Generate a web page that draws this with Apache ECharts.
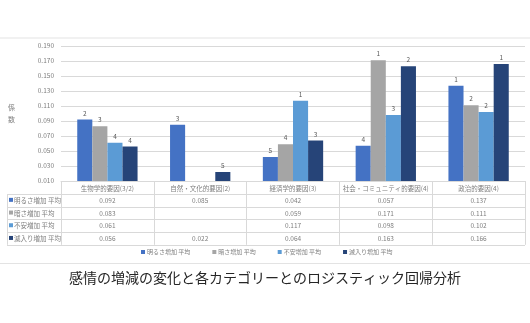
<!DOCTYPE html>
<html>
<head>
<meta charset="utf-8">
<script src="https://cdn.jsdelivr.net/npm/echarts@6/dist/echarts.min.js"></script>
<style>
  html, body { margin: 0; padding: 0; background: #fff; }
  #chart { width: 530px; height: 323px; }
</style>
</head>
<body>
<div id="chart"></div>
<script>
// Categories and per-emotion average coefficients
const categories = ['生物学的要因(3/2)', '自然・文化的要因(2)', '経済学的要因(3)', '社会・コミュニティ的要因(4)', '政治的要因(4)'];
const seriesNames = ['明るさ増加 平均', '暗さ増加 平均', '不安増加 平均', '滅入り増加 平均'];
const brightValues  = [0.092, 0.085, 0.042, 0.057, 0.137];
const darkValues    = [0.083, null,  0.059, 0.171, 0.111];
const anxietyValues = [0.061, null,  0.117, 0.098, 0.102];
const gloomValues   = [0.056, 0.022, 0.064, 0.163, 0.166];
// Rank labels printed above each bar
const brightRanks  = ['2', '3', '5', '4', '1'];
const darkRanks    = ['3', '',  '4', '1', '2'];
const anxietyRanks = ['4', '',  '1', '3', '2'];
const gloomRanks   = ['4', '5', '3', '2', '1'];
const yTicks = [0.010, 0.030, 0.050, 0.070, 0.090, 0.110, 0.130, 0.150, 0.170, 0.190];
const titleText = '感情の増減の変化と各カテゴリーとのロジスティック回帰分析';

const valueSets = [brightValues, darkValues, anxietyValues, gloomValues];
const rankSets = [brightRanks, darkRanks, anxietyRanks, gloomRanks];
const colors = ['#4472C4', '#A5A5A5', '#5B9BD5', '#264478'];

const FONT = '"Noto Sans CJK JP", "Noto Sans", sans-serif';
const W = 530, H = 323;
const gridLeft = 61, gridRight = 5, gridTop = 46, gridBottom = 142;
const plotBottom = H - gridBottom;
const colW = (W - gridLeft - gridRight) / categories.length;
const rowH = 12.7;
const headerBottom = plotBottom + 13;
const tableLeft = 7;
const lineColor = '#d9d9d9';
const textColor = '#7f7f7f';

const chart = echarts.init(document.getElementById('chart'), null, { renderer: 'canvas' });

// Data table under the plot: row headers, value cells and ruling lines
const graphics = [];
graphics.push({ type: 'line', shape: { x1: 0, y1: 38, x2: W, y2: 38 }, style: { stroke: '#e3e3e3', lineWidth: 1 }, silent: true });
graphics.push({ type: 'line', shape: { x1: 0, y1: 263.5, x2: W, y2: 263.5 }, style: { stroke: '#e3e3e3', lineWidth: 1 }, silent: true });
for (let r = 0; r <= seriesNames.length; r++) {
  const y = Math.round(headerBottom + r * rowH) + 0.5;
  graphics.push({ type: 'line', shape: { x1: tableLeft, y1: y, x2: W - gridRight, y2: y }, style: { stroke: lineColor, lineWidth: 1 }, silent: true });
}
graphics.push({ type: 'line', shape: { x1: tableLeft + 0.5, y1: headerBottom, x2: tableLeft + 0.5, y2: headerBottom + seriesNames.length * rowH }, style: { stroke: lineColor, lineWidth: 1 }, silent: true });
seriesNames.forEach((name, r) => {
  const cy = headerBottom + (r + 0.5) * rowH;
  graphics.push({ type: 'rect', shape: { x: 9, y: cy - 2.5, width: 4, height: 4 }, style: { fill: colors[r] }, silent: true });
  graphics.push({ type: 'text', x: 14, y: cy, style: { text: name, font: '6.5px ' + FONT, fill: textColor, verticalAlign: 'middle', align: 'left' }, silent: true });
  valueSets[r].forEach((v, c) => {
    if (v == null) return;
    graphics.push({ type: 'text', x: gridLeft + (c + 0.5) * colW, y: cy, style: { text: v.toFixed(3), font: '6.5px ' + FONT, fill: textColor, verticalAlign: 'middle', align: 'center' }, silent: true });
  });
});
graphics.push({ type: 'text', x: W / 2, y: 278, style: { text: titleText, font: '14px ' + FONT, fill: '#262626', align: 'center', verticalAlign: 'middle' }, silent: true });

const option = {
  animation: false,
  backgroundColor: '#fff',
  textStyle: { fontFamily: FONT },
  grid: { left: gridLeft, right: gridRight, top: gridTop, bottom: gridBottom, containLabel: false },
  legend: {
    bottom: 63,
    left: 136,
    icon: 'rect',
    itemWidth: 4,
    itemHeight: 4,
    itemGap: 22,
    textStyle: { fontSize: 6, color: textColor, fontFamily: FONT, padding: [0, 0, 0, -3] },
    data: seriesNames
  },
  xAxis: {
    type: 'category',
    data: categories,
    axisLine: { show: true, lineStyle: { color: lineColor } },
    axisTick: { show: true, interval: 0, length: 13 + seriesNames.length * rowH, lineStyle: { color: lineColor } },
    axisLabel: { interval: 0, fontSize: 6.5, color: textColor, margin: 4, fontFamily: FONT },
    splitLine: { show: false }
  },
  yAxis: {
    type: 'value',
    min: yTicks[0],
    max: yTicks[yTicks.length - 1],
    name: '係\n\n数',
    nameLocation: 'middle',
    nameRotate: 0,
    nameGap: 46,
    nameTextStyle: { fontSize: 7, color: textColor, lineHeight: 6, fontFamily: FONT },
    axisLine: { show: false },
    axisTick: { show: false, customValues: yTicks },
    axisLabel: { customValues: yTicks, fontSize: 6.5, color: textColor, margin: 7, formatter: v => v.toFixed(3), fontFamily: FONT },
    splitLine: { show: true, lineStyle: { color: lineColor, width: 1 } }
  },
  series: seriesNames.map((name, i) => ({
    name,
    type: 'bar',
    barGap: '0%',
    barCategoryGap: '35%',
    itemStyle: { color: colors[i] },
    label: {
      show: true,
      position: 'top',
      distance: 3,
      fontSize: 6.5,
      color: '#595959',
      fontFamily: FONT,
      formatter: p => rankSets[i][p.dataIndex]
    },
    data: valueSets[i]
  })),
  graphic: graphics
};

chart.setOption(option);
</script>
</body>
</html>
